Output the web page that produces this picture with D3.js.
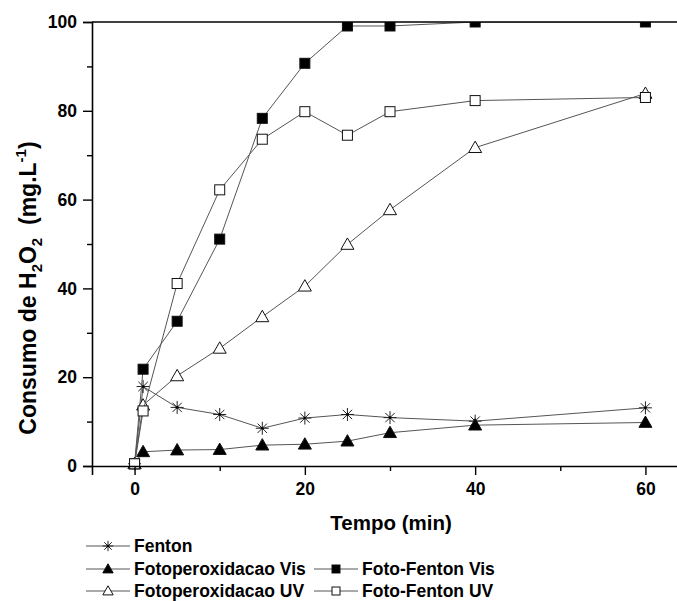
<!DOCTYPE html>
<html>
<head>
<meta charset="utf-8">
<script src="https://cdn.jsdelivr.net/npm/d3@7"></script>
<style>
  body { margin: 0; background: #fff; }
  svg { display: block; font-family: "Liberation Sans", Arial, sans-serif; font-weight: bold; }
</style>
</head>
<body>
<svg id="chart" width="677" height="601"></svg>
<script>
// tempo (min)
const tempo = [0, 1, 5, 10, 15, 20, 25, 30, 40, 60];

// consumo de H2O2 (mg/L)
const fenton = [0.5, 17.9, 13.2, 11.6, 8.5, 10.8, 11.6, 10.9, 10.1, 13.1];
const fotoperoxVis = [0.5, 3.2, 3.6, 3.7, 4.7, 4.9, 5.6, 7.5, 9.2, 9.8];
const fotoFentonVis = [0.5, 21.8, 32.6, 51.1, 78.3, 90.7, 99.1, 99.1, 100, 100];
const fotoperoxUV = [0.5, 13.7, 20.3, 26.5, 33.6, 40.5, 49.9, 57.7, 71.7, 83.9];
const fotoFentonUV = [0.5, 12.4, 41.1, 62.2, 73.6, 79.8, 74.5, 79.8, 82.3, 83.0];

const xMajor = [0, 20, 40, 60];
const xMinor = [10, 30, 50];
const yMajor = [0, 20, 40, 60, 80, 100];
const yMinor = [10, 30, 50, 70, 90];

const series = [
  { name: "Fenton", values: fenton, shape: "star" },
  { name: "Fotoperoxidacao Vis", values: fotoperoxVis, shape: "triFill" },
  { name: "Foto-Fenton Vis", values: fotoFentonVis, shape: "sqFill" },
  { name: "Fotoperoxidacao UV", values: fotoperoxUV, shape: "triOpen" },
  { name: "Foto-Fenton UV", values: fotoFentonUV, shape: "sqOpen" }
];

const svg = d3.select("#chart");
const x = d3.scaleLinear().domain([-5, 65]).range([92, 688]);
const y = d3.scaleLinear().domain([0, 100]).range([466, 22]);

// draws one marker at (cx, cy), size s
function marker(g, shape, cx, cy, s) {
  const h = s / 2;
  if (shape === "sqFill" || shape === "sqOpen") {
    g.append("rect")
      .attr("x", cx - h).attr("y", cy - h)
      .attr("width", s).attr("height", s)
      .attr("fill", shape === "sqFill" ? "#000" : "#fff")
      .attr("stroke", "#111").attr("stroke-width", 1);
  } else if (shape === "triFill" || shape === "triOpen") {
    const t = s * 1.3 / 2;
    g.append("path")
      .attr("d", `M${cx},${cy - t}L${cx + t},${cy + t * 0.75}L${cx - t},${cy + t * 0.75}Z`)
      .attr("fill", shape === "triFill" ? "#000" : "#fff")
      .attr("stroke", "#111").attr("stroke-width", 1);
  } else {
    const r = h * 1.3;
    const d = r * 0.72;
    g.append("path")
      .attr("d", `M${cx},${cy - r}L${cx},${cy + r}M${cx - d},${cy - d}L${cx + d},${cy + d}M${cx - d},${cy + d}L${cx + d},${cy - d}M${cx - r},${cy}L${cx + r},${cy}`)
      .attr("fill", "none")
      .attr("stroke", "#222").attr("stroke-width", 1);
    g.append("circle").attr("cx", cx).attr("cy", cy).attr("r", 1.3).attr("fill", "#000");
  }
}

// clip so the squares at 100 are cut at the top frame
svg.append("clipPath").attr("id", "plot")
  .append("rect").attr("x", 92).attr("y", 22).attr("width", 600).attr("height", 450);

const plot = svg.append("g").attr("clip-path", "url(#plot)");
const line = d3.line().x(d => x(d[0])).y(d => y(d[1]));

series.forEach(s => {
  const pts = tempo.map((t, i) => [t, s.values[i]]);
  plot.append("path")
    .attr("d", line(pts))
    .attr("fill", "none")
    .attr("stroke", "#555")
    .attr("stroke-width", 1);
  const g = plot.append("g");
  pts.forEach(p => marker(g, s.shape, x(p[0]), y(p[1]), 10));
});

// axes
svg.append("g").attr("transform", "translate(0,466)")
  .call(d3.axisBottom(x).tickValues(xMajor).tickSize(9).tickPadding(8).tickFormat(d3.format("d")));
svg.append("g").attr("transform", "translate(0,466)")
  .call(d3.axisBottom(x).tickValues(xMinor).tickSize(5).tickFormat(""))
  .select(".domain").remove();
svg.append("g").attr("transform", "translate(92,0)")
  .call(d3.axisLeft(y).tickValues(yMajor).tickSize(9).tickPadding(6).tickFormat(d3.format("d")));
svg.append("g").attr("transform", "translate(92,0)")
  .call(d3.axisLeft(y).tickValues(yMinor).tickSize(5).tickFormat(""))
  .select(".domain").remove();

svg.selectAll(".domain").attr("stroke", "#000").attr("stroke-width", 1.6);
svg.selectAll(".tick line").attr("stroke", "#000").attr("stroke-width", 1.4);
svg.selectAll(".tick text").attr("font-size", 17.5).attr("font-weight", "bold")
  .attr("font-family", "Liberation Sans, Arial, sans-serif").attr("fill", "#000");

// top frame line
svg.append("line")
  .attr("x1", x(-5)).attr("x2", 677)
  .attr("y1", y(100)).attr("y2", y(100))
  .attr("stroke", "#000").attr("stroke-width", 1.6);

// axis titles
svg.append("text")
  .attr("x", 391).attr("y", 530)
  .attr("text-anchor", "middle")
  .attr("font-size", 20.5)
  .text("Tempo (min)");

const yt = svg.append("text")
  .attr("transform", "translate(36,288) rotate(-90)")
  .attr("text-anchor", "middle")
  .attr("font-size", 23);
yt.append("tspan").text("Consumo de H");
yt.append("tspan").attr("font-size", 15).attr("dy", 6).text("2");
yt.append("tspan").attr("dy", -6).text("O");
yt.append("tspan").attr("font-size", 15).attr("dy", 6).text("2");
yt.append("tspan").attr("dy", -6).text("\u00a0 (mg.L");
yt.append("tspan").attr("font-size", 15).attr("dy", -10).text("-1");
yt.append("tspan").attr("dy", 10).text(")");

// legend
const legendPos = [
  { col: 0, row: 0 }, { col: 0, row: 1 }, { col: 1, row: 1 }, { col: 0, row: 2 }, { col: 1, row: 2 }
];
const colX = [86, 314];
const rowY = [546, 569, 591];
series.forEach((s, i) => {
  const p = legendPos[i];
  const x0 = colX[p.col], cy = rowY[p.row];
  const g = svg.append("g");
  g.append("line").attr("x1", x0).attr("x2", x0 + 44).attr("y1", cy).attr("y2", cy)
    .attr("stroke", "#555").attr("stroke-width", 1);
  marker(g, s.shape, x0 + 22, cy, 8);
  g.append("text").attr("x", x0 + 48).attr("y", cy + 6)
    .attr("font-size", 17.5).text(s.name);
});
</script>
</body>
</html>
